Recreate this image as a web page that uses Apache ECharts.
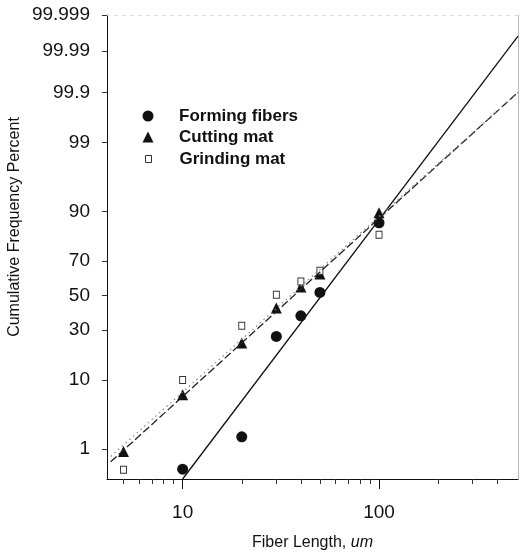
<!DOCTYPE html>
<html>
<head>
<meta charset="utf-8">
<script src="https://cdn.jsdelivr.net/npm/echarts@6/dist/echarts.min.js"></script>
<style>
html,body{margin:0;padding:0;background:#fff;}
#chart{width:520px;height:554px;}
</style>
</head>
<body>
<div id="chart"></div>
<script>
// ---- Data (fiber length in um, cumulative frequency in percent) ----
const formingX = [10, 20, 30, 40, 50, 100];
const formingPct = [0.42, 1.6, 26.8, 38, 52, 86.6];
const cuttingX = [5, 10, 20, 30, 40, 50, 100];
const cuttingPct = [0.9, 6.6, 23.6, 42.6, 55.3, 63, 89.6];
const grindingX = [5, 10, 20, 30, 40, 50, 100];
const grindingPct = [0.41, 10, 32.4, 50.6, 58.6, 64.8, 82.3];

// fitted lines (end points)
const formingFitX = [10, 510];
const formingFitPct = [0.268, 99.996];
const cuttingFitX = [4.3, 510];
const cuttingFitPct = [0.58, 99.9];
const grindingFitX = [4.3, 510];
const grindingFitPct = [0.73, 99.9];

// axis ticks / labels
const yTickPct = [1, 10, 30, 50, 70, 90, 99, 99.9, 99.99, 99.999];
const yTickLabels = ['1', '10', '30', '50', '70', '90', '99', '99.9', '99.99', '99.999'];
const xMajor = [10, 100];
const xMinor = [5, 6, 7, 8, 9, 20, 30, 40, 50, 60, 70, 80, 90, 200, 300, 400];
const xMin = 4.12, xMax = 510;
const yMinPct = 0.268, yMaxPct = 99.999;

// normal probability (probit) transform of a percent value
function probit(pct) {
  const p = pct / 100;
  const a=[-3.969683028665376e+01,2.209460984245205e+02,-2.759285104469687e+02,1.383577518672690e+02,-3.066479806614716e+01,2.506628277459239e+00];
  const b=[-5.447609879822406e+01,1.615858368580409e+02,-1.556989798598866e+02,6.680131188771972e+01,-1.328068155288572e+01];
  const c=[-7.784894002430293e-03,-3.223964580411365e-01,-2.400758277161838e+00,-2.549732539343734e+00,4.374664141464968e+00,2.938163982698783e+00];
  const d=[7.784695709041462e-03,3.224671290700398e-01,2.445134137142996e+00,3.754408661907416e+00];
  const pl = 0.02425, ph = 1 - pl;
  let q, r;
  if (p < pl) { q = Math.sqrt(-2*Math.log(p)); return (((((c[0]*q+c[1])*q+c[2])*q+c[3])*q+c[4])*q+c[5])/((((d[0]*q+d[1])*q+d[2])*q+d[3])*q+1); }
  if (p <= ph) { q = p - 0.5; r = q*q; return (((((a[0]*r+a[1])*r+a[2])*r+a[3])*r+a[4])*r+a[5])*q/(((((b[0]*r+b[1])*r+b[2])*r+b[3])*r+b[4])*r+1); }
  q = Math.sqrt(-2*Math.log(1-p));
  return -(((((c[0]*q+c[1])*q+c[2])*q+c[3])*q+c[4])*q+c[5])/((((d[0]*q+d[1])*q+d[2])*q+d[3])*q+1);
}
function pairs(xs, pcts) { return xs.map((x, i) => [x, probit(pcts[i])]); }

const yTickZ = yTickPct.map(probit);
function yLabel(v) {
  let best = 0, bd = Infinity;
  yTickZ.forEach((z, i) => { const dd = Math.abs(z - v); if (dd < bd) { bd = dd; best = i; } });
  return yTickLabels[best];
}

const FONT = 'Liberation Sans, Arial, Helvetica, sans-serif';
const INK = '#111';

const chart = echarts.init(document.getElementById('chart'), null, {renderer: 'canvas'});
function legendText(padLeft) {
  return {fontFamily: FONT, fontSize: 17, fontWeight: 'bold', color: INK, padding: [0, 0, 0, padLeft]};
}
const legendBase = {orient: 'vertical', padding: 0, itemGap: 0, selectedMode: false};
chart.setOption({
  animation: false,
  backgroundColor: '#fff',
  grid: {left: 107, right: 2, top: 15, bottom: 75, containLabel: false, outerBoundsMode: 'none'},
  legend: [
    Object.assign({}, legendBase, {left: 142.5, top: 107.5, itemWidth: 11, itemHeight: 11,
      textStyle: legendText(20.5), data: ['Forming fibers']}),
    Object.assign({}, legendBase, {left: 142.5, top: 128.5, itemWidth: 11, itemHeight: 11,
      textStyle: legendText(20.5), data: ['Cutting mat']}),
    Object.assign({}, legendBase, {left: 145, top: 150.5, itemWidth: 6, itemHeight: 7,
      itemStyle: {borderWidth: 1}, textStyle: legendText(23), data: ['Grinding mat']})
  ],
  xAxis: [
    {
      type: 'log', logBase: 10, min: xMin, max: xMax, position: 'bottom',
      axisLine: {show: true, onZero: false, lineStyle: {color: INK, width: 1}},
      axisTick: {show: true, inside: false, length: 10, customValues: xMajor, lineStyle: {color: INK, width: 1}},
      axisLabel: {show: true, customValues: xMajor, margin: 24, fontFamily: FONT, fontSize: 19, color: INK,
        formatter: v => String(Math.round(v))},
      splitLine: {show: false}, minorTick: {show: false},
      name: '{a|Fiber Length, }{b|um}', nameLocation: 'middle', nameGap: 56,
      nameTextStyle: {rich: {
        a: {fontFamily: FONT, fontSize: 16, color: INK},
        b: {fontFamily: FONT, fontSize: 16, fontStyle: 'italic', color: INK}
      }}
    },
    {
      type: 'log', logBase: 10, min: xMin, max: xMax, position: 'bottom',
      axisLine: {show: false, onZero: false},
      axisTick: {show: true, inside: false, length: 5, customValues: xMinor, lineStyle: {color: '#333', width: 1}},
      axisLabel: {show: false}, splitLine: {show: false}
    },
    {
      type: 'log', logBase: 10, min: xMin, max: xMax, position: 'top',
      axisLine: {show: true, onZero: false, lineStyle: {color: '#d6d6d6', width: 1, type: [2, 6]}},
      axisTick: {show: false}, axisLabel: {show: false}, splitLine: {show: false}
    }
  ],
  yAxis: [
    {
      type: 'value', min: probit(yMinPct), max: probit(yMaxPct), position: 'left',
      axisLine: {show: true, onZero: false, lineStyle: {color: INK, width: 1}},
      axisTick: {show: true, inside: false, length: 5, customValues: yTickZ, lineStyle: {color: '#333', width: 1}},
      axisLabel: {show: true, customValues: yTickZ, margin: 17, fontFamily: FONT, fontSize: 19, color: INK,
        formatter: v => yLabel(v)},
      splitLine: {show: false}
    },
    {
      type: 'value', min: probit(yMinPct), max: probit(yMaxPct), position: 'right',
      axisLine: {show: true, onZero: false, lineStyle: {color: '#b8b8b8', width: 1}},
      axisTick: {show: false}, axisLabel: {show: false}, splitLine: {show: false}
    }
  ],
  graphic: [{
    type: 'text', x: 15, y: 227, rotation: Math.PI / 2,
    style: {text: 'Cumulative Frequency Percent', fontFamily: FONT, fontSize: 16, fill: INK,
      align: 'center', verticalAlign: 'middle'}
  }],
  series: [
    {type: 'line', name: 'formingFit', data: pairs(formingFitX, formingFitPct), symbol: 'none', silent: true,
      lineStyle: {color: INK, width: 1.3, type: 'solid', opacity: 1}},
    {type: 'line', name: 'cuttingFit', data: pairs(cuttingFitX, cuttingFitPct), symbol: 'none', silent: true,
      lineStyle: {color: '#222', width: 1.3, type: [8, 3], opacity: 1}},
    {type: 'line', name: 'grindingFit', data: pairs(grindingFitX, grindingFitPct), symbol: 'none', silent: true,
      lineStyle: {color: '#888', width: 1.2, type: [1.5, 3.5], opacity: 1}},
    {type: 'scatter', name: 'Forming fibers', data: pairs(formingX, formingPct), symbol: 'circle', symbolSize: 11,
      itemStyle: {color: INK, opacity: 1}},
    {type: 'scatter', name: 'Cutting mat', data: pairs(cuttingX, cuttingPct), symbol: 'triangle', symbolSize: 11,
      itemStyle: {color: INK, opacity: 1}},
    {type: 'scatter', name: 'Grinding mat', data: pairs(grindingX, grindingPct), symbol: 'rect', symbolSize: [6, 7],
      itemStyle: {color: '#fff', borderColor: '#333', borderWidth: 1, opacity: 1}}
  ]
});
</script>
</body>
</html>
